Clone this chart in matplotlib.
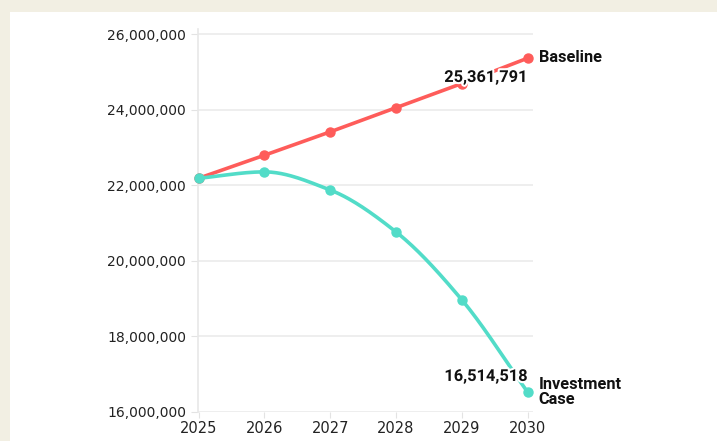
import numpy as np
import matplotlib
matplotlib.use("Agg")
import matplotlib.pyplot as plt
import matplotlib.patheffects as pe
from matplotlib.patches import Rectangle
from matplotlib.ticker import FuncFormatter

years = [2025, 2026, 2027, 2028, 2029, 2030]
baseline = [22180000, 22790000, 23410000, 24050000, 24690000, 25361791]
investment = [22180000, 22350000, 21870000, 20760000, 18960000, 16514518]
yticks = [16000000, 18000000, 20000000, 22000000, 24000000, 26000000]

RED = "#fe5c5a"
TEAL = "#52dcc8"
BEIGE = "#f2efe3"


def smooth(xs, ys, n=200):
    # monotone cubic (Fritsch-Carlson) interpolation for a smooth line
    x = np.asarray(xs, float)
    y = np.asarray(ys, float)
    h = np.diff(x)
    d = np.diff(y) / h
    m = np.zeros_like(y)
    m[0] = d[0]
    m[-1] = d[-1]
    for i in range(1, len(y) - 1):
        if d[i - 1] * d[i] <= 0:
            m[i] = 0
        else:
            w1 = 2 * h[i] + h[i - 1]
            w2 = h[i] + 2 * h[i - 1]
            m[i] = (w1 + w2) / (w1 / d[i - 1] + w2 / d[i])
    xx = np.linspace(x[0], x[-1], n)
    yy = np.empty_like(xx)
    for j, t in enumerate(xx):
        k = min(np.searchsorted(x, t, side="right") - 1, len(x) - 2)
        s = (t - x[k]) / h[k]
        h00 = 2 * s**3 - 3 * s**2 + 1
        h10 = s**3 - 2 * s**2 + s
        h01 = -2 * s**3 + 3 * s**2
        h11 = s**3 - s**2
        yy[j] = h00 * y[k] + h10 * h[k] * m[k] + h01 * y[k + 1] + h11 * h[k] * m[k + 1]
    return xx, yy


fig = plt.figure(figsize=(7.17, 4.41), dpi=100)
fig.patch.set_facecolor(BEIGE)
fig.patches.append(Rectangle((10 / 717, 0), 1, 1 - 12 / 441, transform=fig.transFigure,
                             facecolor="white", edgecolor="none", zorder=-10))

ax = fig.add_axes([198.5 / 717, 1 - 411.7 / 441, 334.5 / 717, 382.2 / 441])
ax.set_zorder(5)
ax.set_facecolor("none")
ax.set_xlim(2025, 2030.08)
ax.set_ylim(16000000, 26120000)

for s in ["top", "right", "bottom"]:
    ax.spines[s].set_visible(False)
ax.spines["left"].set_color("#e8e8e8")
ax.spines["left"].set_linewidth(1.2)

ax.set_yticks(yticks)
ax.yaxis.set_major_formatter(FuncFormatter(lambda v, p: f"{int(v):,}"))
ax.set_xticks(years)
ax.set_xticklabels([str(y) for y in years])
ax.grid(axis="y", color="#ebebeb", linewidth=1.2)
ax.tick_params(axis="y", length=5, color="#e3e3e3", labelsize=10, labelcolor="#222222", pad=4)
ax.tick_params(axis="x", length=4, color="#e3e3e3", labelsize=10.5, labelcolor="#222222", pad=3)

ax.plot(years, baseline, color=RED, lw=2.6, marker="o", ms=6.5, clip_on=False, zorder=3)
sx, sy = smooth(years, investment)
ax.plot(sx, sy, color=TEAL, lw=2.6, clip_on=False, zorder=3)
ax.plot(years, investment, color=TEAL, lw=0, marker="o", ms=6.5, clip_on=False, zorder=3)

halo = [pe.withStroke(linewidth=3, foreground="white")]
FS = 11.8
ax.annotate(f"{baseline[-1]:,}", (years[-1], baseline[-1]), xytext=(0, -8.5),
            textcoords="offset points", ha="right", va="top", fontsize=FS,
            fontweight="bold", family="Roboto", color="#111111", path_effects=halo, zorder=4)
ax.annotate("Baseline", (years[-1], baseline[-1]), xytext=(8, 0.5),
            textcoords="offset points", ha="left", va="center", fontsize=FS,
            fontweight="bold", family="Roboto", color="#111111", annotation_clip=False)
ax.annotate(f"{investment[-1]:,}", (years[-1], investment[-1]), xytext=(0, 6),
            textcoords="offset points", ha="right", va="bottom", fontsize=FS,
            fontweight="bold", family="Roboto", color="#111111", path_effects=halo, zorder=4)
ax.annotate("Investment\nCase", (years[-1], investment[-1]), xytext=(8, 0),
            textcoords="offset points", ha="left", va="center", fontsize=FS,
            fontweight="bold", family="Roboto", color="#111111", linespacing=1.0,
            annotation_clip=False)

fig.savefig("out.png", dpi=100, facecolor=fig.get_facecolor())
